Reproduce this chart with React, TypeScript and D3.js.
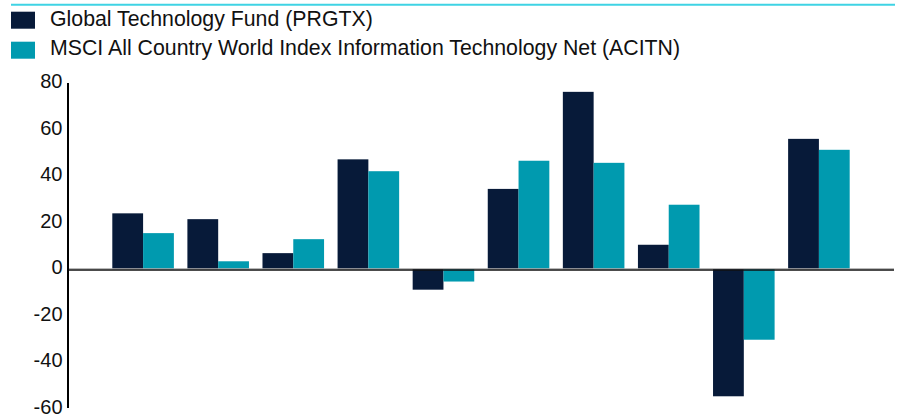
import React from "react";
import * as d3 from "d3";

const categories = ["C1", "C2", "C3", "C4", "C5", "C6", "C7", "C8", "C9", "C10"];
const fundValues = [24.0, 21.5, 6.9, 47.2, -8.8, 34.5, 76.2, 10.5, -54.6, 56.0];
const indexValues = [15.5, 3.4, 12.9, 42.1, -5.3, 46.6, 45.7, 27.7, -30.3, 51.3];
const yTicks = [80, 60, 40, 20, 0, -20, -40, -60];
const seriesNames = [
  "Global Technology Fund (PRGTX)",
  "MSCI All Country World Index Information Technology Net (ACITN)",
];
const colors = ["#071a39", "#009aaf"];

const W = 900;
const H = 416;
const left = 68;
const right = 894;
const y80 = 83;
const y0 = 269.2;

export default function App() {
  const y = d3.scaleLinear().domain([0, 80]).range([y0, y80]);
  const x = d3.scalePoint<string>().domain(categories).range([left, right]).padding(1);
  const step = x.step();
  const barW = step * 0.41;
  const font = "'Liberation Sans', Arial, sans-serif";

  return (
    <svg
      width={W}
      height={H}
      style={{ position: "absolute", left: 0, top: 0, background: "#fff" }}
      fontFamily={font}
    >
      <line x1={11} x2={895} y1={4.8} y2={4.8} stroke="#3fd3e4" strokeWidth={2} />
      {seriesNames.map((n, i) => (
        <g key={n}>
          <rect x={11} y={11.7 + i * 30} width={24} height={17} fill={colors[i]} />
          <text x={50} y={25.8 + i * 29.5} fontSize={21.3} fill="#111">
            {n}
          </text>
        </g>
      ))}
      {yTicks.map((t) => (
        <text key={t} x={62.5} y={y(t) + 5} fontSize={20} textAnchor="end" fill="#111">
          {t}
        </text>
      ))}
      {categories.map((c, i) => {
        const cx = x(c)!;
        const vals = [fundValues[i], indexValues[i]];
        return (
          <g key={c}>
            {vals.map((v, j) => (
              <rect
                key={j}
                x={cx - barW + j * barW}
                y={Math.min(y(v), y(0))}
                width={barW}
                height={Math.abs(y(v) - y(0))}
                fill={colors[j]}
              />
            ))}
          </g>
        );
      })}
      <line x1={left} x2={right} y1={y(0) - 0.5} y2={y(0) - 0.5} stroke="#aaa" strokeWidth={1} />
      <line x1={left} x2={right} y1={y(0) + 0.8} y2={y(0) + 0.8} stroke="#111" strokeWidth={1.6} />
      <line x1={68} x2={68} y1={y80} y2={408} stroke="#000" strokeWidth={2} />
    </svg>
  );
}
